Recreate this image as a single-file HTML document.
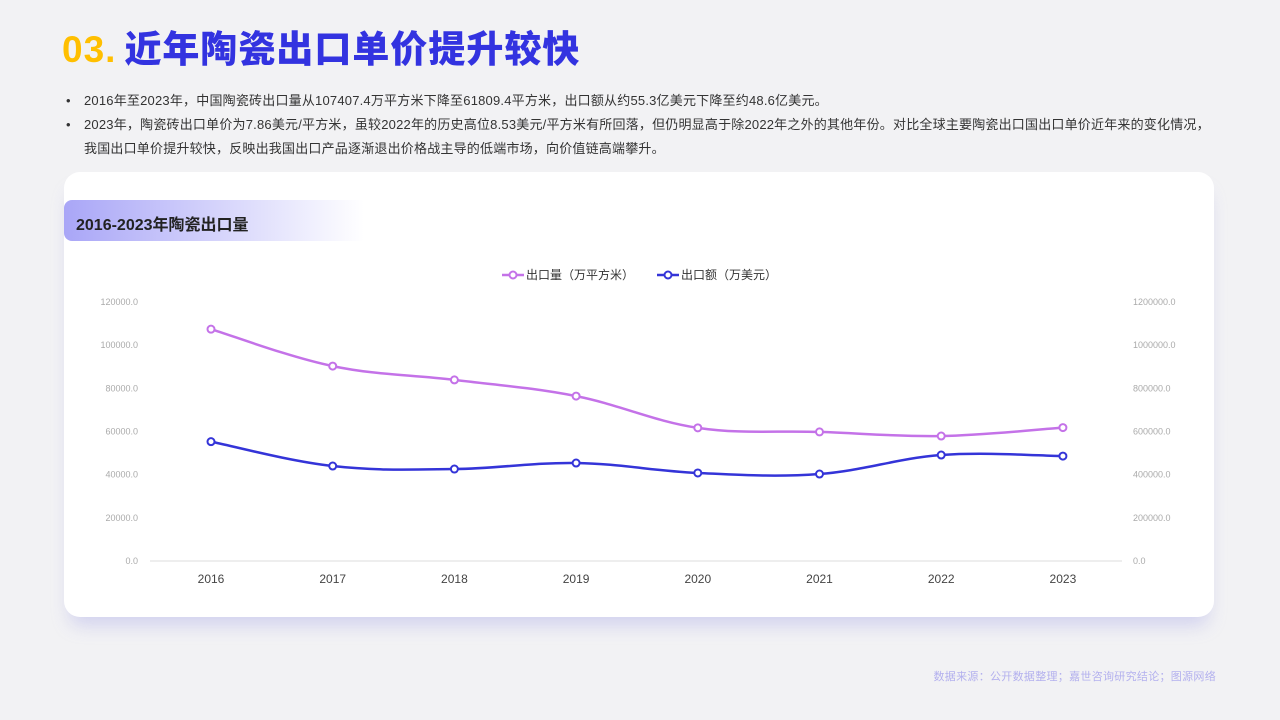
<!DOCTYPE html>
<html><head><meta charset="utf-8">
<style>
*{margin:0;padding:0;box-sizing:border-box}
body{width:1280px;height:720px;background:#f2f2f4;font-family:"Liberation Sans","Noto Sans CJK SC",sans-serif;position:relative;overflow:hidden}
.title{position:absolute;left:62px;top:19px;font-size:37px;font-weight:900;color:#3333e0;letter-spacing:1px}
.title span{color:#ffbf00;margin-right:8px}
.bul{position:absolute;left:66px;font-size:13px;color:#333;line-height:24px;letter-spacing:0.2px}
.bul p{position:relative;padding-left:18px}
.bul p:before{content:"•";position:absolute;left:0}
.card{position:absolute;left:64px;top:172px;width:1150px;height:445px;background:#fff;border-radius:16px;box-shadow:0 14px 18px -6px rgba(150,150,230,0.35)}
.ctitle{position:absolute;left:64px;top:200px;width:300px;height:41px;border-radius:8px 0 0 8px;background:linear-gradient(90deg,#a9a6f7,#fff);font-size:16px;font-weight:bold;color:#222;padding:11px 0 0 12px}
.src{position:absolute;right:64px;top:668px;font-size:11px;color:#b3b0ee;letter-spacing:0.3px}
</style></head><body>
<div class="title"><span>03.</span>近年陶瓷出口单价提升较快</div>
<div class="bul" style="top:89px;width:1170px">
<p>2016年至2023年，中国陶瓷砖出口量从107407.4万平方米下降至61809.4平方米，出口额从约55.3亿美元下降至约48.6亿美元。</p>
<p>2023年，陶瓷砖出口单价为7.86美元/平方米，虽较2022年的历史高位8.53美元/平方米有所回落，但仍明显高于除2022年之外的其他年份。对比全球主要陶瓷出口国出口单价近年来的变化情况，<br>我国出口单价提升较快，反映出我国出口产品逐渐退出价格战主导的低端市场，向价值链高端攀升。</p>
</div>
<div class="card"></div>
<div class="ctitle">2016-2023年陶瓷出口量</div>
<svg id="ch" width="1280" height="720" style="position:absolute;left:0;top:0"></svg>
<div class="src">数据来源：公开数据整理；嘉世咨询研究结论；图源网络</div>
<script>
const years=["2016","2017","2018","2019","2020","2021","2022","2023"];
const volume=[107407.4,90300,83900,76400,61700,59800,57900,61809.4];
const amount=[553000,440000,426000,454000,408000,403000,491000,486000];
const leftTicks=[0,20000,40000,60000,80000,100000,120000];
const rightTicks=[0,200000,400000,600000,800000,1000000,1200000];
const svg=document.getElementById('ch');const NS="http://www.w3.org/2000/svg";
const x=i=>211+i*121.7;
const yL=v=>561-v/120000*259;
const yR=v=>561-v/1200000*259;
function el(t,a,p){const e=document.createElementNS(NS,t);for(const k in a)e.setAttribute(k,a[k]);(p||svg).appendChild(e);return e;}
const ax=el('line',{x1:150,x2:1122,y1:561,y2:561,stroke:'#ddd'});


leftTicks.forEach(v=>{const t=el('text',{x:138,y:yL(v)+3,'text-anchor':'end','font-size':9,fill:'#aaa'});t.textContent=v.toFixed(1);

});
rightTicks.forEach(v=>{const t=el('text',{x:1133,y:yR(v)+3,'font-size':9,fill:'#aaa'});t.textContent=v.toFixed(1);

});
years.forEach((y,i)=>{const t=el('text',{x:x(i),y:583,'text-anchor':'middle','font-size':12,fill:'#444'});t.textContent=y;

});
function path(pts){let d=`M${pts[0][0]},${pts[0][1]}`;for(let i=0;i<pts.length-1;i++){const p0=pts[i-1]||pts[i],p1=pts[i],p2=pts[i+1],p3=pts[i+2]||p2;const t=0.18;
d+=` C${p1[0]+(p2[0]-p0[0])*t},${p1[1]+(p2[1]-p0[1])*t} ${p2[0]-(p3[0]-p1[0])*t},${p2[1]-(p3[1]-p1[1])*t} ${p2[0]},${p2[1]}`;}return d;}
function series(vals,fy,col,name){const pts=vals.map((v,i)=>[x(i),fy(v)]);
const p=el('path',{d:path(pts),fill:'none',stroke:col,'stroke-width':2.5});


pts.forEach(q=>{const c=el('circle',{cx:q[0],cy:q[1],r:3.5,fill:'#fff',stroke:col,'stroke-width':2});

});}
series(volume,yL,'#c472e8','volume');
series(amount,yR,'#3434d8','amount');
function leg(x0,col,txt,name){const g=el('g',{});


el('line',{x1:x0,x2:x0+22,y1:275,y2:275,stroke:col,'stroke-width':2.5},g);
el('circle',{cx:x0+11,cy:275,r:3.5,fill:'#fff',stroke:col,'stroke-width':2},g);
const t=el('text',{x:x0+24,y:279,'font-size':12,fill:'#333'},g);t.textContent=txt;}
leg(502,'#c472e8','出口量（万平方米）','legend-volume');
leg(657,'#3434d8','出口额（万美元）','legend-amount');
</script>
</body></html>
